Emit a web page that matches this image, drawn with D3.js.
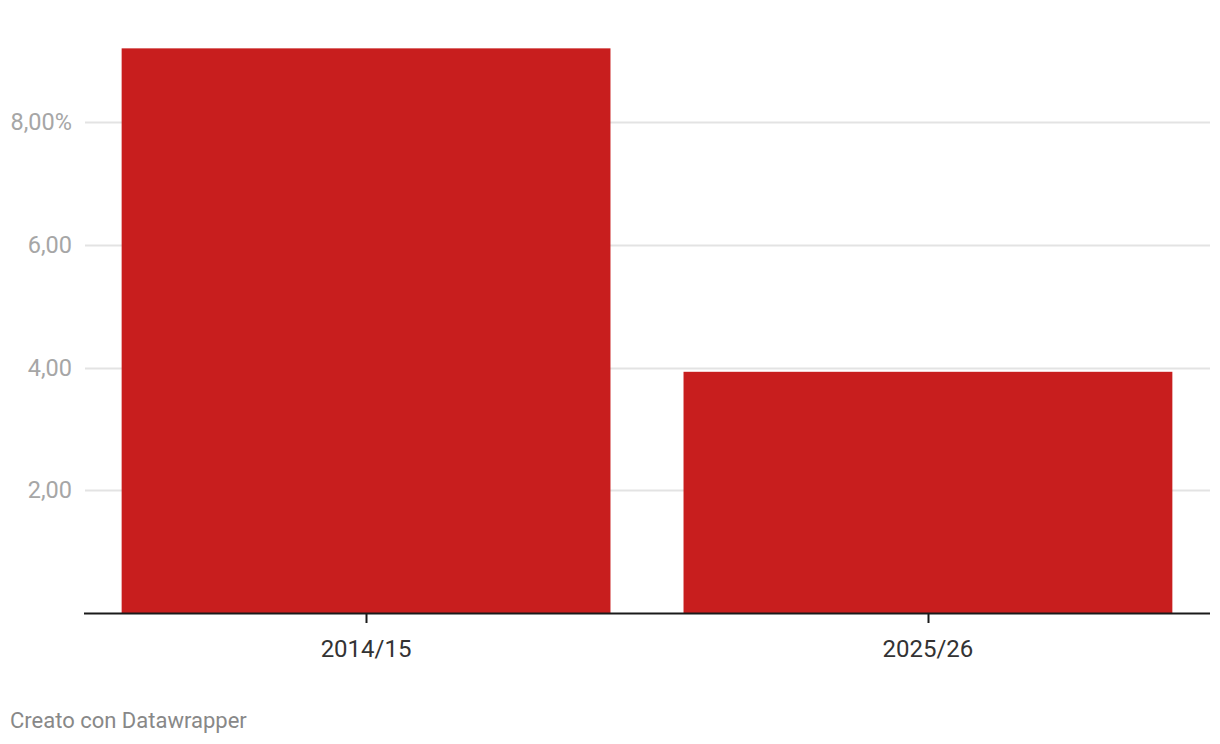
<!DOCTYPE html>
<html>
<head>
<meta charset="utf-8">
<title>Bar chart</title>
<script src="https://cdn.jsdelivr.net/npm/d3@7"></script>
<style>
  body { margin: 0; background: #fff; }
  svg text { font-family: Roboto, "Noto Sans", sans-serif; }
</style>
</head>
<body>
<script>
  // data
  const categories = ["2014/15", "2025/26"];
  const values = [9.2, 3.93];
  const yTicks = [2, 4, 6, 8];

  const width = 1220, height = 744;
  const left = 84, right = 1210, baseline = 613, top8 = 122;

  const svg = d3.select("body").append("svg")
    .attr("width", width)
    .attr("height", height);

  const x = d3.scaleBand()
    .domain(categories)
    .range([left, right])
    .paddingInner(0.13)
    .paddingOuter(0.067);

  const y = d3.scaleLinear()
    .domain([0, 8])
    .range([baseline, top8]);

  // gridlines + y labels
  const grid = svg.append("g");
  grid.selectAll("line")
    .data(yTicks)
    .join("line")
      .attr("x1", left + 1)
      .attr("x2", right)
      .attr("y1", d => Math.round(y(d)) + 0.5)
      .attr("y2", d => Math.round(y(d)) + 0.5)
      .attr("stroke", "#e3e3e3")
      .attr("stroke-width", 2);

  grid.selectAll("text")
    .data(yTicks)
    .join("text")
      .attr("x", 72)
      .attr("y", d => y(d))
      .attr("dy", "0.35em")
      .attr("text-anchor", "end")
      .attr("fill", "#a6a6a6")
      .attr("font-size", 23.5)
      .text(d => d3.format(".2f")(d).replace(".", ",") + (d === 8 ? "%" : ""));

  // bars
  svg.append("g")
    .selectAll("rect")
    .data(categories)
    .join("rect")
      .attr("x", d => x(d))
      .attr("width", x.bandwidth())
      .attr("y", (d, i) => y(values[i]))
      .attr("height", (d, i) => baseline - y(values[i]))
      .attr("fill", "#c81e1e");

  // x axis
  const xAxis = svg.append("g")
    .attr("transform", `translate(0,${baseline})`);
  xAxis.append("line")
    .attr("x1", left).attr("x2", right)
    .attr("y1", 0.5).attr("y2", 0.5)
    .attr("stroke", "#1a1a1a")
    .attr("stroke-width", 2);
  xAxis.selectAll("line.tick")
    .data(categories)
    .join("line")
      .attr("class", "tick")
      .attr("x1", d => Math.round(x(d) + x.bandwidth() / 2) + 0.5)
      .attr("x2", d => Math.round(x(d) + x.bandwidth() / 2) + 0.5)
      .attr("y1", 0).attr("y2", 10)
      .attr("stroke", "#1a1a1a")
      .attr("stroke-width", 2);
  xAxis.selectAll("text")
    .data(categories)
    .join("text")
      .attr("x", d => x(d) + x.bandwidth() / 2)
      .attr("y", 44)
      .attr("text-anchor", "middle")
      .attr("fill", "#333")
      .attr("font-size", 24)
      .text(d => d);

  // footer
  svg.append("text")
    .attr("x", 10)
    .attr("y", 728)
    .attr("fill", "#888")
    .attr("font-size", 22)
    .text("Creato con Datawrapper");
</script>
</body>
</html>
